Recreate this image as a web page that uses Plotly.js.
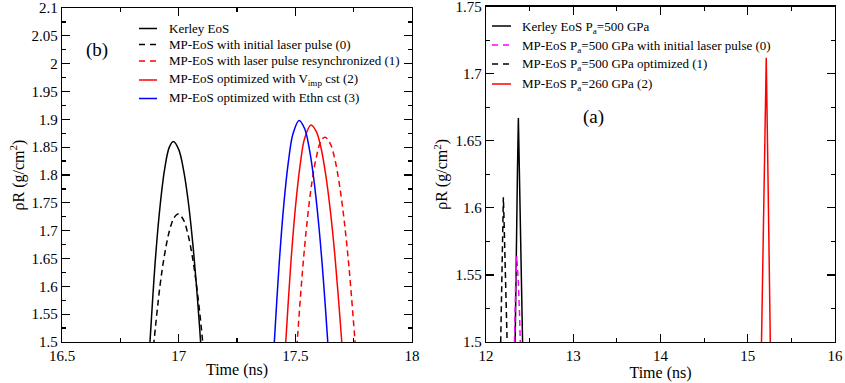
<!DOCTYPE html>
<html><head><meta charset="utf-8">
<script src="https://cdn.plot.ly/plotly-3.0.1.min.js"></script>
<style>html,body{margin:0;padding:0;background:#fff}#chart{width:845px;height:383px}</style>
</head><body><div id="chart"></div>
<script>
// ---- Panel (b): left ----
const kerleyB_x = [16.865,16.877,16.90,16.92,16.94,16.96,16.977,17.00,17.02,17.04,17.06,17.08,17.094,17.105];
const kerleyB_y = [1.42,1.50,1.647,1.743,1.811,1.85,1.86,1.846,1.811,1.756,1.679,1.581,1.50,1.42];
const mp0B_x = [16.88,16.894,16.92,16.94,16.96,16.98,16.998,17.02,17.04,17.06,17.08,17.103,17.115];
const mp0B_y = [1.44,1.50,1.601,1.658,1.699,1.723,1.73,1.72,1.693,1.65,1.59,1.50,1.44];
const mp1B_x = [17.495,17.508,17.53,17.55,17.57,17.59,17.61,17.627,17.65,17.67,17.69,17.71,17.73,17.756,17.77];
const mp1B_y = [1.42,1.50,1.624,1.714,1.784,1.832,1.861,1.868,1.856,1.827,1.78,1.716,1.634,1.50,1.42];
const mp2B_x = [17.447,17.459,17.48,17.50,17.52,17.54,17.567,17.59,17.61,17.63,17.65,17.67,17.699,17.712];
const mp2B_y = [1.42,1.50,1.637,1.74,1.816,1.866,1.89,1.878,1.849,1.801,1.736,1.653,1.50,1.42];
const mp3B_x = [17.398,17.41,17.43,17.45,17.47,17.49,17.516,17.54,17.56,17.58,17.60,17.62,17.639,17.652];
const mp3B_y = [1.42,1.50,1.636,1.744,1.823,1.874,1.898,1.883,1.847,1.79,1.712,1.613,1.50,1.42];
const namesB = ["Kerley EoS","MP-EoS with initial laser pulse (0)","MP-EoS with laser pulse resynchronized (1)",
  "MP-EoS optimized with V<sub>imp</sub> cst (2)","MP-EoS optimized with Ethn cst (3)"];

// ---- Panel (a): right ----
const kerleyA_x = [12.328,12.333,12.345,12.36,12.371,12.385,12.40,12.42,12.425];
const kerleyA_y = [1.47,1.50,1.56,1.625,1.667,1.62,1.565,1.50,1.48];
const mp0A_x = [12.318,12.325,12.34,12.352,12.37,12.385,12.398,12.405];
const mp0A_y = [1.47,1.50,1.545,1.564,1.545,1.52,1.50,1.47];
const mp1A_x = [12.16,12.168,12.185,12.199,12.205,12.215,12.23,12.245,12.25];
const mp1A_y = [1.47,1.50,1.575,1.608,1.595,1.575,1.535,1.50,1.48];
const mp2A_x = [15.15,15.158,15.185,15.212,15.235,15.258,15.265];
const mp2A_y = [1.47,1.50,1.61,1.712,1.61,1.50,1.47];
const namesA = ["Kerley EoS P<sub>a</sub>=500 GPa","MP-EoS P<sub>a</sub>=500 GPa with initial laser pulse (0)",
  "MP-EoS P<sub>a</sub>=500 GPa optimized (1)","MP-EoS P<sub>a</sub>=260 GPa (2)"];

const xTicksB = [16.5,17,17.5,18];
const yTicksB = [1.5,1.55,1.6,1.65,1.7,1.75,1.8,1.85,1.9,1.95,2,2.05,2.1];
const xTicksA = [12,13,14,15,16];
const yTicksA = [1.5,1.55,1.6,1.65,1.7,1.75];

const DASH = "6px,4px";
const LW = 1.5;
const stylesB = [['#000','solid'],['#000',DASH],['#ff0000',DASH],['#ff0000','solid'],['#0000ff','solid']];
const stylesA = [['#000','solid'],['#ff00ff',DASH],['#000',DASH],['#ff0000','solid']];

function tr(x,y,name,st,xa,ya,shape){
  return {x:x,y:y,name:name,mode:'lines',type:'scatter',line:{color:st[0],width:LW,dash:st[1],shape:shape},
    xaxis:xa,yaxis:ya,showlegend:false,hoverinfo:'skip'};
}
const data = [
  tr(kerleyB_x,kerleyB_y,namesB[0],stylesB[0],'x','y','spline'),
  tr(mp0B_x,mp0B_y,namesB[1],stylesB[1],'x','y','spline'),
  tr(mp1B_x,mp1B_y,namesB[2],stylesB[2],'x','y','spline'),
  tr(mp2B_x,mp2B_y,namesB[3],stylesB[3],'x','y','spline'),
  tr(mp3B_x,mp3B_y,namesB[4],stylesB[4],'x','y','spline'),
  tr(kerleyA_x,kerleyA_y,namesA[0],stylesA[0],'x2','y2','linear'),
  tr(mp0A_x,mp0A_y,namesA[1],stylesA[1],'x2','y2','linear'),
  tr(mp1A_x,mp1A_y,namesA[2],stylesA[2],'x2','y2','linear'),
  tr(mp2A_x,mp2A_y,namesA[3],stylesA[3],'x2','y2','linear')
];

const FONT = "Liberation Serif";
const W = 845, H = 383;
function axis(extra, mdt, m0){
  return Object.assign({
    showline:true, linecolor:'#000', linewidth:1.3, mirror:'allticks',
    ticks:'inside', ticklen:8, tickwidth:1.2, tickcolor:'#000',
    showgrid:false, zeroline:false, fixedrange:true, ticklabeloverflow:'allow',
    tickfont:{family:FONT,size:15,color:'#000'},
    minor:{ticks:'inside',ticklen:4,tickwidth:1.2,tickcolor:'#000',showgrid:false,dtick:mdt,tick0:m0}
  }, extra);
}

// manual legends (line sample + text), positioned in pixels
const legB = {x0:139, x1:157, tx:167, ly:[28.5,44.5,61,80,98.5], ty:[28.5,44.5,60.5,79.5,97.5]};
const legA = {x0:492, x1:511, tx:520, ly:[26,45,64,84], ty:[27,46,65,84]};
const shapes = [], annotations = [];
function addLegend(leg, names, styles){
  names.forEach((n,i)=>{
    shapes.push({type:'line',xref:'paper',yref:'paper',x0:leg.x0/W,x1:leg.x1/W,y0:1-leg.ly[i]/H,y1:1-leg.ly[i]/H,
      line:{color:styles[i][0],width:LW,dash:styles[i][1]===DASH?'6px,5px':'solid'}});
    annotations.push({xref:'paper',yref:'paper',x:leg.tx/W,y:1-leg.ty[i]/H,xanchor:'left',yanchor:'middle',
      text:n,showarrow:false,font:{family:FONT,size:13,color:'#000'}});
  });
}
addLegend(legB, namesB, stylesB);
addLegend(legA, namesA, stylesA);
annotations.push({xref:'paper',yref:'paper',x:97/W,y:1-50/H,xanchor:'center',yanchor:'middle',text:'(b)',showarrow:false,font:{family:FONT,size:19,color:'#000'}});
annotations.push({xref:'paper',yref:'paper',x:593/W,y:1-117/H,xanchor:'center',yanchor:'middle',text:'(a)',showarrow:false,font:{family:FONT,size:19,color:'#000'}});

const layout = {
  width:W, height:H, margin:{l:0,r:0,t:0,b:0},
  paper_bgcolor:'#fff', plot_bgcolor:'#fff',
  font:{family:FONT,color:'#000'},
  showlegend:false,
  xaxis: axis({domain:[62/W,412/W], range:[16.5,18], tickvals:xTicksB, anchor:'y',
    title:{text:'Time (ns)', font:{family:FONT,size:16}, standoff:0}}, 0.25, 16.5),
  yaxis: axis({domain:[41/H,375/H], range:[1.5,2.1], tickvals:yTicksB, anchor:'x',
    title:{text:'ρR (g/cm<sup>2</sup>)', font:{family:FONT,size:16}, standoff:3}}, 0.025, 1.5),
  xaxis2: axis({domain:[486/W,835/W], range:[12,16], tickvals:xTicksA, anchor:'y2',
    title:{text:'Time (ns)', font:{family:FONT,size:16}, standoff:0}}, 0.5, 12),
  yaxis2: axis({domain:[41/H,376.3/H], range:[1.5,1.75], tickvals:yTicksA, anchor:'x2',
    title:{text:'ρR (g/cm<sup>2</sup>)', font:{family:FONT,size:16}, standoff:3}}, 0.025, 1.5),
  shapes:shapes,
  annotations:annotations
};
Plotly.newPlot('chart', data, layout, {displayModeBar:false, staticPlot:true});
</script></body></html>
